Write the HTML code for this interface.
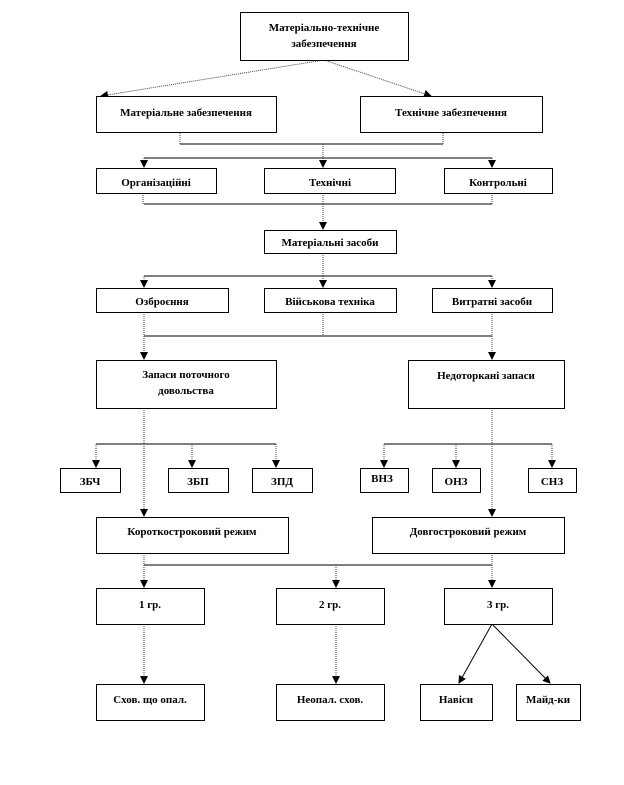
<!DOCTYPE html>
<html><head><meta charset="utf-8"><style>
html,body{margin:0;padding:0;background:#fff}
svg text{font-family:"Liberation Serif",serif;font-weight:bold;font-size:11px;fill:#000}
</style></head><body>
<svg width="624" height="780" viewBox="0 0 624 780" xmlns="http://www.w3.org/2000/svg">
<defs><marker id="a" markerWidth="8" markerHeight="8" refX="7" refY="4" orient="auto" markerUnits="userSpaceOnUse"><path d="M0,0 L8,4 L0,8 z" fill="#000"/></marker></defs>
<g stroke="#000" stroke-width="1" fill="none">
<!-- horizontals -->
<path d="M180,144H443 M144,158H492 M144,204H492 M144,276H492 M144,336H492 M96,444H276 M384,444H552 M144,565H492"/>
</g>
<g stroke="#444" stroke-width="1" stroke-dasharray="1,1" fill="none">
<line x1="324" y1="60" x2="101" y2="96" marker-end="url(#a)"/>
<line x1="324" y1="60" x2="431" y2="96" marker-end="url(#a)"/>
<path d="M180,133V144 M443,133V144 M323,144V158 M143,193V204 M492,193V204 M323,193V204 M323,253V276 M144,312V336 M323,312V336 M492,312V336 M492,408V444"/>
<line x1="144" y1="158" x2="144" y2="167" marker-end="url(#a)"/>
<line x1="323" y1="158" x2="323" y2="167" marker-end="url(#a)"/>
<line x1="492" y1="158" x2="492" y2="167" marker-end="url(#a)"/>
<line x1="323" y1="204" x2="323" y2="229" marker-end="url(#a)"/>
<line x1="144" y1="276" x2="144" y2="287" marker-end="url(#a)"/>
<line x1="323" y1="276" x2="323" y2="287" marker-end="url(#a)"/>
<line x1="492" y1="276" x2="492" y2="287" marker-end="url(#a)"/>
<line x1="144" y1="336" x2="144" y2="359" marker-end="url(#a)"/>
<line x1="492" y1="336" x2="492" y2="359" marker-end="url(#a)"/>
<line x1="144" y1="408" x2="144" y2="516" marker-end="url(#a)"/>
<line x1="492" y1="444" x2="492" y2="516" marker-end="url(#a)"/>
<line x1="96" y1="444" x2="96" y2="467" marker-end="url(#a)"/>
<line x1="192" y1="444" x2="192" y2="467" marker-end="url(#a)"/>
<line x1="276" y1="444" x2="276" y2="467" marker-end="url(#a)"/>
<line x1="384" y1="444" x2="384" y2="467" marker-end="url(#a)"/>
<line x1="456" y1="444" x2="456" y2="467" marker-end="url(#a)"/>
<line x1="552" y1="444" x2="552" y2="467" marker-end="url(#a)"/>
<path d="M144,553V565 M492,553V565"/>
<line x1="144" y1="565" x2="144" y2="587" marker-end="url(#a)"/>
<line x1="336" y1="565" x2="336" y2="587" marker-end="url(#a)"/>
<line x1="492" y1="565" x2="492" y2="587" marker-end="url(#a)"/>
<line x1="144" y1="624" x2="144" y2="683" marker-end="url(#a)"/>
<line x1="336" y1="624" x2="336" y2="683" marker-end="url(#a)"/>
</g>
<g stroke="#000" fill="none">
<line x1="492" y1="624" x2="459" y2="683" marker-end="url(#a)"/>
<line x1="492" y1="624" x2="550" y2="683" marker-end="url(#a)"/>
</g>
<g fill="#fff" stroke="#000" stroke-width="1">
<rect x="240.5" y="12.5" width="168" height="48"/>
<rect x="96.5" y="96.5" width="180" height="36"/>
<rect x="360.5" y="96.5" width="182" height="36"/>
<rect x="96.5" y="168.5" width="120" height="25"/>
<rect x="264.5" y="168.5" width="131" height="25"/>
<rect x="444.5" y="168.5" width="108" height="25"/>
<rect x="264.5" y="230.5" width="132" height="23"/>
<rect x="96.5" y="288.5" width="132" height="24"/>
<rect x="264.5" y="288.5" width="132" height="24"/>
<rect x="432.5" y="288.5" width="120" height="24"/>
<rect x="96.5" y="360.5" width="180" height="48"/>
<rect x="408.5" y="360.5" width="156" height="48"/>
<rect x="60.5" y="468.5" width="60" height="24"/>
<rect x="168.5" y="468.5" width="60" height="24"/>
<rect x="252.5" y="468.5" width="60" height="24"/>
<rect x="360.5" y="468.5" width="48" height="24"/>
<rect x="432.5" y="468.5" width="48" height="24"/>
<rect x="528.5" y="468.5" width="48" height="24"/>
<rect x="96.5" y="517.5" width="192" height="36"/>
<rect x="372.5" y="517.5" width="192" height="36"/>
<rect x="96.5" y="588.5" width="108" height="36"/>
<rect x="276.5" y="588.5" width="108" height="36"/>
<rect x="444.5" y="588.5" width="108" height="36"/>
<rect x="96.5" y="684.5" width="108" height="36"/>
<rect x="276.5" y="684.5" width="108" height="36"/>
<rect x="420.5" y="684.5" width="72" height="36"/>
<rect x="516.5" y="684.5" width="64" height="36"/>
</g>
<g text-anchor="middle">
<text x="324" y="31">Матеріально-технічне</text>
<text x="324" y="47">забезпечення</text>
<text x="186" y="116">Матеріальне забезпечення</text>
<text x="451" y="116">Технічне забезпечення</text>
<text x="156" y="186">Організаційні</text>
<text x="330" y="186">Технічні</text>
<text x="498" y="186">Контрольні</text>
<text x="330" y="246">Матеріальні засоби</text>
<text x="162" y="305">Озброєння</text>
<text x="330" y="305">Військова техніка</text>
<text x="492" y="305">Витратні засоби</text>
<text x="186" y="378">Запаси поточного</text>
<text x="186" y="394">довольства</text>
<text x="486" y="379">Недоторкані запаси</text>
<text x="90" y="485">ЗБЧ</text>
<text x="198" y="485">ЗБП</text>
<text x="282" y="485">ЗПД</text>
<text x="382" y="482">ВНЗ</text>
<text x="456" y="485">ОНЗ</text>
<text x="552" y="485">СНЗ</text>
<text x="192" y="535">Короткостроковий режим</text>
<text x="468" y="535">Довгостроковий режим</text>
<text x="150" y="608">1 гр.</text>
<text x="330" y="608">2 гр.</text>
<text x="498" y="608">3 гр.</text>
<text x="150" y="703">Схов. що опал.</text>
<text x="330" y="703">Неопал. схов.</text>
<text x="456" y="703">Навіси</text>
<text x="548" y="703">Майд-ки</text>
</g>
</svg>
</body></html>
